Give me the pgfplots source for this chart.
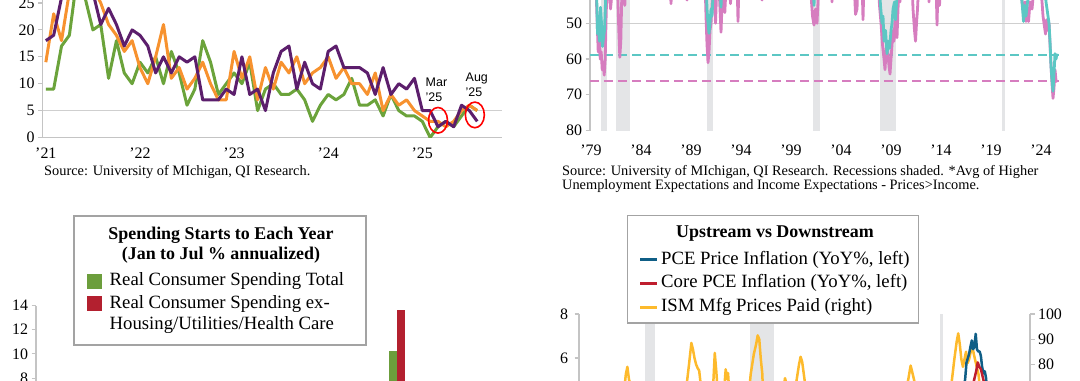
\documentclass[border=0pt]{standalone}
\usepackage{fontspec}
\setmainfont{Liberation Serif}
\newfontfamily\sansf{Liberation Sans}
\usepackage{pgfplots}
\pgfplotsset{compat=1.18}
\definecolor{tlgreen}{HTML}{6BA33B}
\definecolor{tlorange}{HTML}{F7922F}
\definecolor{tlpurple}{HTML}{5C1E6C}
\definecolor{trcyan}{HTML}{5CC7C4}
\definecolor{trpink}{HTML}{D67DBF}
\definecolor{recgray}{HTML}{E4E5E7}
\definecolor{gridgray}{HTML}{CFCFCF}
\definecolor{axisgray}{HTML}{C4C4C4}
\definecolor{blgreen}{HTML}{6C9E3C}
\definecolor{blred}{HTML}{B3202F}
\definecolor{brblue}{HTML}{0F5E86}
\definecolor{brred}{HTML}{BF1E2E}
\definecolor{bryellow}{HTML}{FDBA2C}
\definecolor{boxgray}{HTML}{A3A3A3}
\newcommand\tkfont{\fontsize{16}{16}\selectfont}
\newcommand\srcfont{\fontsize{14.4}{14.4}\selectfont}
\newcommand\legfont{\fontsize{18.8}{18.8}\selectfont}
\newcommand\titfont{\fontsize{18}{18}\selectfont\bfseries}
\pgfplotsset{base/.style={scale only axis,
  axis line style={draw=axisgray, line width=1.3bp},
  tick style={draw=axisgray, line width=1.1bp},
  major tick length=4.5bp, tick align=outside,
  tick label style={font=\tkfont},
  /pgf/number format/assume math mode=true,
  /pgf/number format/1000 sep={}}}
\begin{document}
\begin{tikzpicture}[x=1bp,y=1bp]
\useasboundingbox (0,0) rectangle (1080,-380);
\clip (0,0) rectangle (1080,-380);
% ---------------- top left ----------------
\begin{axis}[base, at={(42.7bp,-137.5bp)}, anchor=south west,
  width=459.6bp, height=188.3bp,
  xmin=-0.4, xmax=58.2, ymin=0, ymax=35,
  axis x line*=bottom, axis y line*=left,
  xtick={0,12,24,36,48}, xticklabels={’21,’22,’23,’24,’25},
  xtick style={draw=none}, xticklabel style={yshift=-2bp},
  ytick={0,5,10,15,20,25}]
\addplot[gridgray, line width=1.2bp] coordinates {(-0.4,5) (58.2,5)};
\addplot[tlgreen, line width=3bp, line join=round] coordinates {
(0,9)(1,9)(2,17)(3,19)(4,30)(5,26)(6,20)(7,21)(8,11)(9,18)(10,12)(11,10)(12,14)(13,12)(14,15)(15,10)(16,16)(17,12)(18,6)(19,9)(20,18)(21,14)(22,8)(23,10)(24,12)(25,10)(26,14)(27,5)(28,9)(29,10)(30,8)(31,8)(32,9)(33,7)(34,3)(35,6)(36,8)(37,7)(38,8)(39,11)(40,6)(41,6)(42,7)(43,4)(44,8)(45,5)(46,4)(47,4)(48,3)(49,0)(50,2)(51,3)(52,2)(53,4)(54,6)(55,5)};
\addplot[tlorange, line width=3bp, line join=round] coordinates {
(0,14)(1,23)(2,18)(3,27)(4,31)(5,30)(6,28)(7,25)(8,21)(9,19)(10,16)(11,18)(12,13)(13,10)(14,15)(15,21)(16,11)(17,13)(18,9)(19,11)(20,14)(21,10)(22,7)(23,7)(24,16)(25,11)(26,15)(27,7)(28,13)(29,9)(30,14)(31,12)(32,15)(33,10)(34,12)(35,13)(36,15)(37,11)(38,13)(39,10)(40,10)(41,8)(42,12)(43,5)(44,8)(45,6)(46,7)(47,5)(48,4)(49,3)(50,3)(51,2)(52,3)(53,5)(54,6)(55,5)};
\addplot[tlpurple, line width=3bp, line join=round] coordinates {
(0,18)(1,19)(2,26)(3,32)(4,33)(5,30)(6,27)(7,21)(8,24)(9,21)(10,17)(11,20)(12,19)(13,17)(14,12)(15,15)(16,12)(17,15)(18,14)(19,15)(20,7)(21,7)(22,7)(23,9)(24,8)(25,15)(26,8)(27,9)(28,5)(29,12)(30,16)(31,17)(32,9)(33,14)(34,10)(35,9)(36,16)(37,17)(38,13)(39,13)(40,13)(41,12)(42,8)(43,13)(44,8)(45,10)(46,9)(47,11)(48,5)(49,5)(50,2)(51,3)(52,2)(53,6)(54,5)(55,3)};
\addplot[only marks, mark=o, mark size=9.5bp, mark options={draw=red, line width=1.6bp, yscale=1.35}] coordinates {(50,3.2) (54.7,4.2)};
\end{axis}
\node[anchor=west, align=left, inner sep=0pt, font=\sansf\fontsize{12.5}{15.5}\selectfont] at (425.5,-89.8) {Mar\\’25};
\node[anchor=west, align=left, inner sep=0pt, font=\sansf\fontsize{12.5}{15.5}\selectfont] at (465.5,-85) {Aug\\’25};
\node[anchor=west, inner sep=0pt, font=\srcfont] at (44,-172) {Source: University of MIchigan, QI Research.};
% ---------------- top right ----------------
\begin{axis}[base, at={(590bp,-130.5bp)}, anchor=south west,
  width=469bp, height=214.4bp,
  xmin=1978.9, xmax=2025.8, ymin=20, ymax=80, y dir=reverse,
  axis x line*=bottom, axis y line*=left, x axis line style={draw=none},
  xtick={1979,1984,1989,1994,1999,2004,2009,2014,2019,2024},
  xticklabels={’79,’84,’89,’94,’99,’04,’09,’14,’19,’24},
  xtick style={draw=none}, xticklabel style={yshift=-6bp},
  ytick={50,60,70,80}]
\addplot[fill=recgray, draw=none] coordinates {(1980.0,20)(1980.55,20)(1980.55,80)(1980.0,80)};
\addplot[fill=recgray, draw=none] coordinates {(1981.5,20)(1982.9,20)(1982.9,80)(1981.5,80)};
\addplot[fill=recgray, draw=none] coordinates {(1990.55,20)(1991.2,20)(1991.2,80)(1990.55,80)};
\addplot[fill=recgray, draw=none] coordinates {(2001.2,20)(2001.9,20)(2001.9,80)(2001.2,80)};
\addplot[fill=recgray, draw=none] coordinates {(2007.9,20)(2009.5,20)(2009.5,80)(2007.9,80)};
\addplot[fill=recgray, draw=none] coordinates {(2020.1,20)(2020.35,20)(2020.35,80)(2020.1,80)};
\addplot[gridgray, line width=1.2bp] coordinates {(1978.9,50) (2025.8,50)};
\addplot[trcyan, line width=1.8bp, dash pattern=on 9bp off 5bp] coordinates {(1978.9,58.9) (2025.8,58.9)};
\addplot[trpink, line width=1.8bp, dash pattern=on 9bp off 5bp] coordinates {(1978.9,66.2) (2025.8,66.2)};
\addplot[trpink, line width=2.8bp, line join=round] coordinates {
(1979.0,38)(1979.5,40)(1979.62,50)(1979.72,58)(1979.82,52)(1979.92,60)(1980.02,58)(1980.12,63)(1980.22,61)(1980.32,64.5)(1980.42,60)(1980.52,47)(1980.62,40)(1980.85,42)(1980.95,46)(1981.05,43)(1981.2,38)(1981.65,40)(1981.78,52)(1981.88,59.5)(1981.98,55)(1982.08,42)(1982.18,44)(1982.28,38)(1982.38,45)(1982.48,38)(1984.5,38)(1984.6,43)(1984.7,38)(1986.9,38)(1987.0,44.5)(1987.1,38)(1988.5,38)(1988.6,43.5)(1988.7,38)(1990.4,38)(1990.5,48)(1990.6,56)(1990.7,61)(1990.8,58)(1990.9,52)(1991.0,50)(1991.1,45)(1991.2,40)(1991.35,44)(1991.45,50)(1991.55,42)(1991.8,40)(1991.9,46)(1992.0,52.5)(1992.1,45)(1992.25,40)(1992.38,47)(1992.5,40)(1992.85,38)(1992.95,44.5)(1993.05,38)(1993.6,38)(1993.7,49.5)(1993.8,38)(1996.0,38)(1996.1,43.5)(1996.2,38)(2000.9,38)(2001.0,42)(2001.15,48)(2001.3,50.5)(2001.45,46)(2001.6,50)(2001.7,44)(2001.8,38)(2003.0,38)(2003.1,44)(2003.2,38)(2005.3,38)(2005.45,47.5)(2005.6,46)(2005.7,38)(2006.1,38)(2006.2,49)(2006.3,38)(2007.7,38)(2007.85,45)(2008.0,50)(2008.15,56)(2008.3,60)(2008.4,63)(2008.5,58)(2008.6,55)(2008.7,59)(2008.8,62)(2008.9,64.2)(2009.0,60)(2009.1,56)(2009.2,52)(2009.3,55)(2009.4,49)(2009.5,53)(2009.6,54)(2009.7,46)(2009.8,40)(2009.9,44)(2010.0,38)(2011.1,38)(2011.2,46)(2011.35,52)(2011.45,55)(2011.55,50)(2011.65,46)(2011.75,40)(2012.7,38)(2012.8,44)(2012.9,38)(2013.5,38)(2013.6,50.5)(2013.7,40)(2013.85,45)(2013.95,38)(2021.9,38)(2022.1,44)(2022.3,48)(2022.4,44)(2022.5,49.5)(2022.6,46)(2022.75,49.5)(2022.9,44)(2023.1,46)(2023.3,40)(2023.9,38)(2024.1,44)(2024.2,48)(2024.3,50)(2024.45,53)(2024.55,49)(2024.7,52)(2024.8,50)(2024.9,56)(2025.0,62)(2025.1,67)(2025.2,71)(2025.3,68)(2025.4,63)(2025.5,66)(2025.6,66.5)};
\addplot[trcyan, line width=2.8bp, line join=round] coordinates {
(1979.0,38)(1979.55,40)(1979.65,53)(1979.75,48)(1979.85,55)(1979.95,45.5)(1980.05,50)(1980.15,56.5)(1980.25,54)(1980.35,52)(1980.45,44)(1980.55,38)(1990.5,38)(1990.6,46)(1990.7,50)(1990.8,52.8)(1990.9,50)(1991.0,46)(1991.1,48)(1991.2,42)(1991.3,38)(1991.9,38)(1992.0,45.5)(1992.1,38)(2001.2,38)(2001.3,45)(2001.4,38)(2007.8,38)(2007.95,45)(2008.1,50)(2008.2,48)(2008.3,55)(2008.45,52)(2008.6,58.5)(2008.75,55)(2008.85,57)(2009.0,52)(2009.1,50)(2009.2,46)(2009.35,44)(2009.45,49)(2009.6,42)(2009.8,38)(2021.9,38)(2022.1,44)(2022.25,49.5)(2022.35,45)(2022.5,48)(2022.65,44)(2023.0,40)(2024.3,38)(2024.5,44)(2024.7,48)(2024.8,50)(2024.9,55)(2025.0,62)(2025.1,66)(2025.2,69)(2025.3,64)(2025.4,58.5)(2025.5,60)(2025.6,58.5)};
\end{axis}
\node[anchor=west, inner sep=0pt, font=\srcfont] at (562,-172) {Source: University of MIchigan, QI Research. Recessions shaded. *Avg of Higher};
\node[anchor=west, inner sep=0pt, font=\srcfont] at (562,-186) {Unemployment Expectations and Income Expectations - Prices>Income.};
% ---------------- bottom left ----------------
\begin{axis}[base, at={(36bp,-474.9bp)}, anchor=south west,
  width=424.8bp, height=169.4bp,
  xmin=1995.5, xmax=2025.5, ymin=0, ymax=14,
  axis x line=none, axis y line*=left,
  xtick=\empty, ytick={0,2,4,6,8,10,12,14}]
\addplot[ybar, bar width=7.8bp, bar shift=-3.9bp, fill=blgreen, draw=none] coordinates {(2021,10.2)};
\addplot[ybar, bar width=7.8bp, bar shift=3.9bp, fill=blred, draw=none] coordinates {(2021,13.6)};
\end{axis}
\draw[boxgray, line width=1.5bp, fill=white] (74,-216) rectangle (366,-345);
\node[font=\titfont, inner sep=0pt] at (221,-234.8) {Spending Starts to Each Year};
\node[font=\titfont, inner sep=0pt] at (221,-255.4) {(Jan to Jul \% annualized)};
\fill[blgreen] (87,-274) rectangle (101.5,-288.5);
\fill[blred] (87,-296.3) rectangle (101.5,-310.8);
\node[anchor=west, inner sep=0pt, font=\legfont] at (109.5,-281.3) {Real Consumer Spending Total};
\node[anchor=west, inner sep=0pt, font=\legfont] at (109.5,-303.6) {Real Consumer Spending ex-};
\node[anchor=west, inner sep=0pt, font=\legfont] at (109.5,-325) {Housing/Utilities/Health Care};
% ---------------- bottom right ----------------
\begin{axis}[base, at={(579bp,-490bp)}, anchor=south west,
  width=451bp, height=176bp,
  xmin=1997, xmax=2025.9, ymin=30, ymax=100,
  axis x line=none, axis y line*=right,
  xtick=\empty, ytick={40,50,60,70,80,90,100}]
\addplot[fill=recgray, draw=none] coordinates {(2001.2,30)(2001.9,30)(2001.9,100)(2001.2,100)};
\addplot[fill=recgray, draw=none] coordinates {(2007.95,30)(2009.5,30)(2009.5,100)(2007.95,100)};
\addplot[fill=recgray, draw=none] coordinates {(2020.1,30)(2020.35,30)(2020.35,100)(2020.1,100)};
\addplot[bryellow, line width=2.5bp, line join=round] coordinates {
(1997.0,55)(1997.5,52)(1998.0,45)(1998.5,38)(1999.0,40)(1999.5,60)(1999.9,70)(2000.0,76)(2000.1,79)(2000.2,74)(2000.4,70)(2000.7,58)(2001.0,52)(2001.5,42)(2001.9,38)(2002.3,55)(2002.6,60)(2002.9,56)(2003.2,65)(2003.5,52)(2003.8,60)(2003.9,72)(2004.05,80)(2004.2,88.5)(2004.3,86)(2004.4,82.5)(2004.5,80)(2004.6,78.5)(2004.7,77.5)(2004.8,72)(2005.0,68)(2005.3,62)(2005.5,60)(2005.6,72)(2005.7,84.5)(2005.8,77)(2005.9,68)(2006.1,62)(2006.3,70)(2006.4,78)(2006.5,74)(2006.55,76.5)(2006.7,62)(2006.9,50)(2007.2,58)(2007.5,68)(2007.8,62)(2008.0,76)(2008.2,84)(2008.35,88)(2008.45,91.5)(2008.55,90)(2008.65,82)(2008.75,76)(2008.85,52)(2009.0,30)(2009.3,32)(2009.6,55)(2009.9,64)(2010.1,70)(2010.2,74.5)(2010.3,72)(2010.5,58)(2010.7,62)(2010.9,72)(2011.1,80)(2011.2,83)(2011.3,81)(2011.45,74)(2011.6,58)(2011.9,48)(2012.3,62)(2012.6,40)(2013.0,55)(2013.5,50)(2014.0,60)(2014.5,58)(2015.0,36)(2015.5,50)(2016.0,38)(2016.5,55)(2017.0,68)(2017.5,58)(2017.9,68)(2018.1,74)(2018.25,79.5)(2018.35,77)(2018.5,73)(2018.8,70)(2019.0,55)(2019.5,47)(2019.9,50)(2020.2,35)(2020.4,45)(2020.6,58)(2020.8,65)(2020.9,74)(2021.05,82)(2021.2,89)(2021.3,92.3)(2021.4,88)(2021.5,82)(2021.6,79)(2021.7,82)(2021.8,85)(2021.9,80.5)(2022.0,82)(2022.1,85)(2022.2,87.5)(2022.3,84)(2022.45,80)(2022.6,76)(2022.7,70)(2022.8,55)(2023.0,45)(2023.5,44)(2024.0,52)(2024.5,52)(2025.0,55)(2025.3,69)(2025.6,64)};
\end{axis}
\begin{axis}[base, at={(579bp,-490bp)}, anchor=south west,
  width=451bp, height=176bp,
  xmin=1997, xmax=2025.9, ymin=0, ymax=8,
  axis x line=none, axis y line*=left,
  xtick=\empty, ytick={0,2,4,6,8}, yticklabel style={xshift=-3bp}]
\addplot[brblue, line width=2.5bp, line join=round] coordinates {
(1997.0,1.9)(1998.0,0.9)(2000.0,2.5)(2001.5,1.6)(2003.0,2.2)(2005.7,3.6)(2007.0,2.2)(2008.5,4.2)(2009.5,-0.8)(2011.7,2.9)(2013.0,1.2)(2015.0,0.2)(2018.5,2.4)(2020.35,0.4)(2021.0,1.4)(2021.25,3.8)(2021.42,4.2)(2021.58,4.3)(2021.67,4.6)(2021.75,5.1)(2021.83,5.8)(2021.92,6.0)(2022.0,6.2)(2022.08,6.5)(2022.17,6.8)(2022.25,6.4)(2022.33,6.5)(2022.42,7.1)(2022.5,6.4)(2022.58,6.3)(2022.67,6.3)(2022.75,6.1)(2022.83,5.6)(2022.92,5.3)(2023.0,5.4)(2023.08,5.1)(2023.17,4.4)(2023.5,3.2)(2024.0,2.6)(2024.7,2.2)(2025.0,2.5)(2025.5,2.6)};
\addplot[brred, line width=2.5bp, line join=round] coordinates {
(1997.0,1.9)(2000.0,1.8)(2003.0,1.5)(2006.5,2.4)(2009.5,1.3)(2011.0,1.0)(2012.3,2.0)(2015.0,1.3)(2018.5,2.0)(2020.35,1.0)(2021.0,1.5)(2021.3,3.2)(2021.6,3.8)(2021.9,4.6)(2022.1,4.9)(2022.25,4.8)(2022.35,5.1)(2022.45,5.4)(2022.55,5.8)(2022.65,5.6)(2022.75,5.5)(2022.85,5.2)(2022.95,4.9)(2023.3,4.6)(2023.8,3.2)(2024.5,2.7)(2025.0,2.7)(2025.5,2.9)};
\end{axis}
\draw[boxgray, line width=1.5bp, fill=white] (627.5,-215.5) rectangle (918.5,-323);
\node[font=\titfont, inner sep=0pt] at (775,-233.5) {Upstream vs Downstream};
\draw[brblue, line width=3bp] (640,-259.5) -- (657,-259.5);
\draw[brred, line width=3bp] (640,-283) -- (657,-283);
\draw[bryellow, line width=3bp] (640,-307) -- (657,-307);
\node[anchor=west, inner sep=0pt, font=\legfont] at (661,-259.5) {PCE Price Inflation (YoY\%, left)};
\node[anchor=west, inner sep=0pt, font=\legfont] at (661,-283) {Core PCE Inflation (YoY\%, left)};
\node[anchor=west, inner sep=0pt, font=\legfont] at (661,-307) {ISM Mfg Prices Paid (right)};
\end{tikzpicture}
\end{document}
